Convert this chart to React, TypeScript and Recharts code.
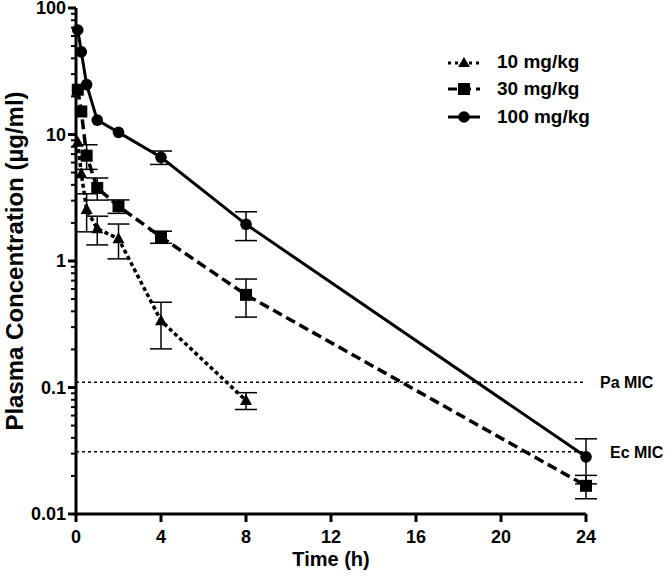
import React from 'react';
import { LineChart, Line, XAxis, YAxis, ErrorBar, ReferenceLine, Legend } from 'recharts';

// sampling times (h) and mean plasma concentrations (µg/ml) with SD
const times = [0.083, 0.25, 0.5, 1, 2, 4, 8, 24];
const dose10 = [8.7, 4.9, 2.55, 1.8, 1.5, 0.337, 0.079, null];
const dose10Sd = [null, null, 0.85, 0.46, 0.46, 0.135, 0.012, null];
const dose30 = [22.6, 15.2, 6.8, 3.78, 2.71, 1.55, 0.54, 0.0167];
const dose30Sd = [null, null, 1.5, 0.75, 0.33, 0.17, 0.18, 0.0035];
const dose100 = [67, 45, 24.8, 13, 10.4, 6.6, 1.95, 0.0283];
const dose100Sd = [null, null, null, null, null, 0.8, 0.5, 0.011];

const xTicks = [0, 4, 8, 12, 16, 20, 24];
const yTicks = [0.01, 0.1, 1, 10, 100];
const yMinorTicks = [
  0.02, 0.03, 0.04, 0.05, 0.06, 0.07, 0.08, 0.09,
  0.2, 0.3, 0.4, 0.5, 0.6, 0.7, 0.8, 0.9,
  2, 3, 4, 5, 6, 7, 8, 9,
  20, 30, 40, 50, 60, 70, 80, 90,
];

const micPa = 0.11;
const micEc = 0.031;

const seriesNames = ['10 mg/kg', '30 mg/kg', '100 mg/kg'];

const data = times.map((t, i) => ({
  time: t,
  d10: dose10[i],
  d10sd: dose10Sd[i],
  d30: dose30[i],
  d30sd: dose30Sd[i],
  d100: dose100[i],
  d100sd: dose100Sd[i],
}));

const FONT = '"Liberation Sans", Arial, sans-serif';

const Triangle = (props: any) => {
  const { cx, cy, index } = props;
  if (cx == null || cy == null) return <g key={index} />;
  return <path key={index} d={`M${cx},${cy - 6.5}L${cx + 6},${cy + 4.5}L${cx - 6},${cy + 4.5}Z`} fill="#000" />;
};

const Square = (props: any) => {
  const { cx, cy, index } = props;
  if (cx == null || cy == null) return <g key={index} />;
  return <rect key={index} x={cx - 6} y={cy - 6} width={12} height={12} fill="#000" />;
};

const Circle = (props: any) => {
  const { cx, cy, index } = props;
  if (cx == null || cy == null) return <g key={index} />;
  return <circle key={index} cx={cx} cy={cy} r={5.8} fill="#000" />;
};

const YTick = (props: any) => {
  const { x, y, payload } = props;
  const major = yTicks.includes(payload.value);
  return (
    <g>
      <line x1={x - (major ? 8 : 5)} x2={x} y1={y} y2={y} stroke="#000" strokeWidth={major ? 3 : 2} />
      {major && (
        <text x={x - 10} y={y} dy="0.36em" textAnchor="end" fill="#000" fontSize={18} fontWeight="bold" fontFamily={FONT}>
          {String(payload.value)}
        </text>
      )}
    </g>
  );
};

const legendIcons = [
  (
    <svg width={32} height={16}>
      <line x1={0} x2={32} y1={9} y2={9} stroke="#000" strokeWidth={3} strokeDasharray="3 4" />
      <path d="M16,3L22,13L10,13Z" fill="#000" />
    </svg>
  ),
  (
    <svg width={32} height={16}>
      <line x1={0} x2={32} y1={8} y2={8} stroke="#000" strokeWidth={3} strokeDasharray="9 5" />
      <rect x={10} y={2} width={12} height={12} fill="#000" />
    </svg>
  ),
  (
    <svg width={32} height={16}>
      <line x1={0} x2={32} y1={8} y2={8} stroke="#000" strokeWidth={3} />
      <circle cx={16} cy={8} r={5.8} fill="#000" />
    </svg>
  ),
];

const LegendBox = () => (
  <div style={{ fontFamily: FONT, fontWeight: 'bold', fontSize: 19, color: '#000' }}>
    {seriesNames.map((name, i) => (
      <div key={name} style={{ display: 'flex', alignItems: 'center', height: 27.5 }}>
        {legendIcons[i]}
        <span style={{ marginLeft: 17 }}>{name}</span>
      </div>
    ))}
  </div>
);

const App: React.FC = () => {
  return (
    <div style={{ position: 'absolute', left: 0, top: 0, width: 666, height: 576, background: '#fff' }}>
      <LineChart width={666} height={576} data={data} margin={{ top: 8, right: 80, bottom: 0, left: 0 }}>
        <XAxis
          dataKey="time"
          type="number"
          domain={[0, 24]}
          ticks={xTicks}
          interval={0}
          height={62}
          axisLine={{ stroke: '#000', strokeWidth: 3 }}
          tickLine={{ stroke: '#000', strokeWidth: 3 }}
          tickSize={8}
          tickMargin={8}
          tick={{ fill: '#000', fontSize: 18, fontWeight: 'bold', fontFamily: FONT }}
          label={{ value: 'Time (h)', position: 'insideBottom', offset: 10, fill: '#000', fontSize: 20, fontWeight: 'bold', fontFamily: FONT }}
        />
        <YAxis
          type="number"
          scale="log"
          domain={[0.01, 100]}
          allowDataOverflow
          ticks={[...yTicks, ...yMinorTicks]}
          interval={0}
          width={76}
          axisLine={{ stroke: '#000', strokeWidth: 3 }}
          tickLine={false}
          tickSize={0}
          tickMargin={0}
          tick={<YTick />}
          label={{
            value: 'Plasma Concentration (µg/ml)',
            angle: -90,
            position: 'insideLeft',
            offset: 14,
            fill: '#000',
            fontSize: 24,
            fontWeight: 'bold',
            fontFamily: FONT,
            style: { textAnchor: 'middle' },
          }}
        />
        <ReferenceLine
          y={micPa}
          stroke="#000"
          strokeWidth={1.5}
          strokeDasharray="3 3"
          label={{ value: 'Pa MIC', position: 'right', offset: 14, fill: '#000', fontSize: 16, fontWeight: 'bold', fontFamily: FONT }}
        />
        <ReferenceLine
          y={micEc}
          stroke="#000"
          strokeWidth={1.5}
          strokeDasharray="3 3"
          label={{ value: 'Ec MIC', position: 'right', offset: 24, fill: '#000', fontSize: 16, fontWeight: 'bold', fontFamily: FONT }}
        />
        <Line dataKey="d10" name={seriesNames[0]} stroke="#000" strokeWidth={3.5} strokeDasharray="4 3" dot={Triangle} isAnimationActive={false}>
          <ErrorBar dataKey="d10sd" width={11} stroke="#000" strokeWidth={1.5} direction="y" />
        </Line>
        <Line dataKey="d30" name={seriesNames[1]} stroke="#000" strokeWidth={3.5} strokeDasharray="10 5" dot={Square} isAnimationActive={false}>
          <ErrorBar dataKey="d30sd" width={11} stroke="#000" strokeWidth={1.5} direction="y" />
        </Line>
        <Line dataKey="d100" name={seriesNames[2]} stroke="#000" strokeWidth={3} dot={Circle} isAnimationActive={false}>
          <ErrorBar dataKey="d100sd" width={11} stroke="#000" strokeWidth={1.5} direction="y" />
        </Line>
        <Legend
          layout="vertical"
          align="center"
          verticalAlign="middle"
          content={<LegendBox />}
          wrapperStyle={{ position: 'absolute', left: 448, top: 48, width: 200 }}
        />
      </LineChart>
    </div>
  );
};

export default App;
